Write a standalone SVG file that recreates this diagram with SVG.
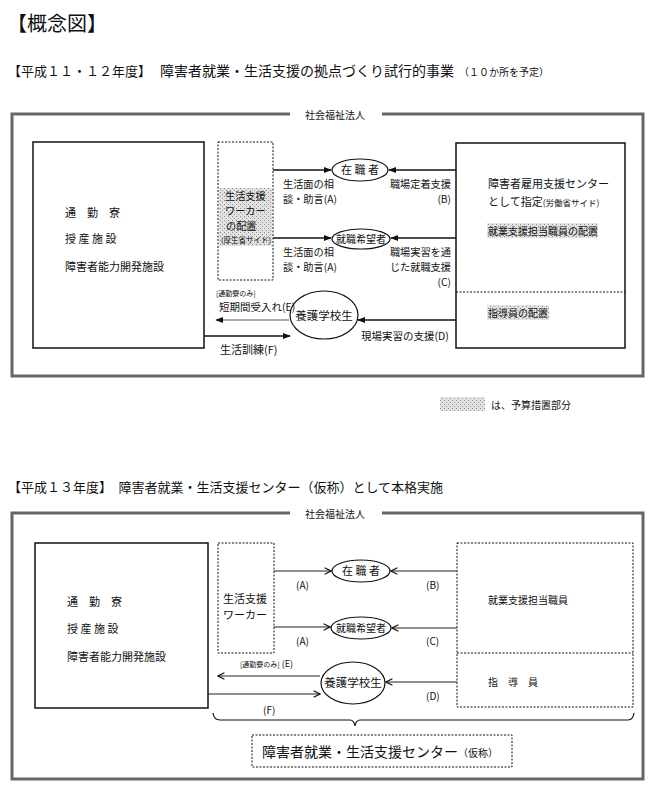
<svg xmlns="http://www.w3.org/2000/svg" width="659" height="796" viewBox="0 0 659 796">
<style>
text{font-family:"Noto Sans CJK JP","Noto Sans CJK SC",sans-serif;fill:#111}
.t{font-size:11px}
.l{font-size:10.2px}
.s{font-size:7px}
.m{font-size:10px}
.outer{fill:none;stroke:#666;stroke-width:3}
.box{fill:#fff;stroke:#111;stroke-width:1.5}
.dbox{fill:none;stroke:#111;stroke-width:1;stroke-dasharray:2 1.5}
.ell{fill:#fff;stroke:#111;stroke-width:1.2}
.a1{stroke:#111;stroke-width:1.6;fill:none;marker-end:url(#ah)}
.a1l{stroke:#555;stroke-width:1.2;fill:none;marker-end:url(#ah)}
.a2{stroke:#222;stroke-width:1.1;fill:none;marker-end:url(#ao)}
.ln{stroke:#111;stroke-width:1.2;fill:none}
.shade{fill:url(#dots)}
</style>
<defs>
<marker id="ah" viewBox="0 0 10 10" refX="9" refY="5" markerWidth="8" markerHeight="8" markerUnits="userSpaceOnUse" orient="auto">
<path d="M0,1 L10,5 L0,9 z" fill="#111"/>
</marker>
<marker id="ao" viewBox="0 0 10 10" refX="9" refY="5" markerWidth="8" markerHeight="8" markerUnits="userSpaceOnUse" orient="auto">
<path d="M1,1 L9,5 L1,9" fill="none" stroke="#111" stroke-width="1.4"/>
</marker>
<pattern id="dots" width="4" height="4" patternUnits="userSpaceOnUse">
<rect width="4" height="4" fill="#e2e2e2"/>
<rect width="1" height="1" fill="#8a8a8a"/>
<rect x="2" y="2" width="1" height="1" fill="#9a9a9a"/>
</pattern>
</defs>

<!-- titles -->
<text x="7" y="31" style="font-size:20px">【概念図】</text>
<text x="8" y="76" style="font-size:13px">【平成１１・１２年度】</text>
<text x="160" y="76" style="font-size:14px">障害者就業・生活支援の拠点づくり試行的事業</text>
<text x="459" y="76" class="m">（１０か所を予定）</text>

<!-- ===== Part 1 ===== -->
<g id="frame1">
<path class="outer" d="M290,114 H12 V376 H643 V114 H382"/>
<text x="305" y="119" class="m">社会福祉法人</text>
</g>

<g id="facilities1">
<rect class="box" x="33" y="142" width="171" height="206"/>
<text x="65" y="217" class="t" xml:space="preserve">通　勤　寮</text>
<text x="65" y="243" class="t">授 産 施 設</text>
<text x="65" y="271" class="t">障害者能力開発施設</text>
</g>

<g id="worker1">
<rect class="shade" x="219" y="188" width="53" height="58"/>
<rect class="dbox" x="218" y="142" width="55" height="138"/>
<text class="l"><tspan x="225" y="200">生活支援</tspan><tspan x="225" y="215">ワーカー</tspan><tspan x="226" y="230">の配置</tspan><tspan x="221" y="243" style="font-size:7.5px">(厚生省サイド)</tspan></text>
</g>

<g id="center1">
<rect class="box" x="456" y="143" width="169" height="205"/>
<line x1="456" y1="292" x2="625" y2="292" class="dbox"/>
<text class="t"><tspan x="488" y="188">障害者雇用支援センター</tspan><tspan x="488" y="206">として指定</tspan><tspan style="font-size:8.5px">(労働省サイド)</tspan></text>
<rect class="shade" x="487" y="223" width="111" height="15"/>
<text x="488" y="235" class="m">就業支援担当職員の配置</text>
<rect class="shade" x="487" y="305" width="62" height="15"/>
<text x="488" y="317" class="m">指導員の配置</text>
</g>

<g id="emp1">
<ellipse class="ell" cx="360" cy="170" rx="28" ry="11"/>
<text x="360" y="174" class="t" text-anchor="middle" xml:space="preserve">在 職 者</text>
</g>
<g id="seek1">
<ellipse class="ell" cx="361" cy="239" rx="29" ry="10"/>
<text x="361" y="243" class="m" text-anchor="middle">就職希望者</text>
</g>
<g id="student1">
<ellipse class="ell" cx="324" cy="315" rx="34" ry="24"/>
<text x="324" y="320" style="font-size:11.5px" text-anchor="middle">養護学校生</text>
</g>

<g id="connectors1">
<line class="a1" x1="273" y1="170" x2="331" y2="170"/>
<line class="a1" x1="456" y1="170" x2="389" y2="170"/>
<line class="a1" x1="273" y1="238" x2="331" y2="238"/>
<line class="a1" x1="456" y1="238" x2="391" y2="238"/>
<line class="a1l" x1="289" y1="320" x2="216" y2="320"/>
<line class="a1" x1="204" y1="336" x2="290" y2="336"/>
<line class="a1" x1="456" y1="320" x2="358" y2="320"/>
<text class="l"><tspan x="283" y="188">生活面の相</tspan><tspan x="283" y="203">談・助言(A)</tspan></text>
<text class="l" text-anchor="end"><tspan x="451" y="188">職場定着支援</tspan><tspan x="451" y="203">(B)</tspan></text>
<text class="l"><tspan x="283" y="256">生活面の相</tspan><tspan x="283" y="271">談・助言(A)</tspan></text>
<text class="l" text-anchor="end"><tspan x="451" y="256">職場実習を通</tspan><tspan x="451" y="271">じた就職支援</tspan><tspan x="451" y="286">(C)</tspan></text>
<text x="216" y="296" class="s">[通勤寮のみ]</text>
<text x="219" y="311" style="font-size:10.5px">短期間受入れ(E)</text>
<text x="220" y="354" class="t">生活訓練(F)</text>
<text x="361" y="340" style="font-size:10.5px">現場実習の支援(D)</text>
</g>

<g id="legend">
<rect class="shade" x="440" y="397" width="45" height="14"/>
<text x="491" y="409" class="m">は、予算措置部分</text>
</g>

<!-- ===== Part 2 ===== -->
<text x="8" y="492" style="font-size:13px">【平成１３年度】　障害者就業・生活支援センター（仮称）として本格実施</text>

<g id="frame2">
<path class="outer" d="M290,513 H12 V779 H643 V513 H382"/>
<text x="305" y="518" class="m">社会福祉法人</text>
</g>

<g id="facilities2">
<rect class="box" x="35" y="543" width="173" height="165"/>
<text x="67" y="606" class="t" xml:space="preserve">通　勤　寮</text>
<text x="67" y="633" class="t">授 産 施 設</text>
<text x="67" y="661" class="t">障害者能力開発施設</text>
</g>

<g id="worker2">
<rect class="dbox" x="218" y="543" width="56" height="110"/>
<text class="t"><tspan x="223" y="603">生活支援</tspan><tspan x="223" y="619">ワーカー</tspan></text>
</g>

<g id="center2">
<rect class="dbox" x="457" y="543" width="176" height="164"/>
<line x1="457" y1="653" x2="633" y2="653" class="dbox"/>
<text x="488" y="604" class="m">就業支援担当職員</text>
<text x="488" y="686" class="m" xml:space="preserve">指　導　員</text>
</g>

<g id="emp2">
<ellipse class="ell" cx="361" cy="571" rx="29" ry="11"/>
<text x="361" y="575" class="t" text-anchor="middle" xml:space="preserve">在 職 者</text>
</g>
<g id="seek2">
<ellipse class="ell" cx="361" cy="628" rx="30" ry="11"/>
<text x="361" y="632" class="m" text-anchor="middle">就職希望者</text>
</g>
<g id="student2">
<ellipse class="ell" cx="353" cy="683" rx="32" ry="21"/>
<text x="353" y="687" style="font-size:11.5px" text-anchor="middle">養護学校生</text>
</g>

<g id="connectors2">
<line class="a2" x1="274" y1="571" x2="331" y2="571"/>
<line class="a2" x1="457" y1="571" x2="391" y2="571"/>
<line class="a2" x1="274" y1="627" x2="330" y2="627"/>
<line class="a2" x1="457" y1="628" x2="392" y2="628"/>
<line class="a2" x1="320" y1="676" x2="218" y2="676"/>
<line class="a2" x1="208" y1="694" x2="320" y2="694"/>
<line class="a2" x1="457" y1="682" x2="386" y2="682"/>
<text x="296" y="589" class="m">(A)</text>
<text x="296" y="645" class="m">(A)</text>
<text x="426" y="589" class="m">(B)</text>
<text x="426" y="645" class="m">(C)</text>
<text x="426" y="700" class="m">(D)</text>
<text x="240" y="667"><tspan class="s">[通勤寮のみ]</tspan><tspan style="font-size:9px" dx="2">(E)</tspan></text>
<text x="263" y="714" class="m">(F)</text>
</g>

<g id="brace">
<path class="ln" d="M213,713 Q214,720 220,720 H350 Q354,720 355,726 Q356,720 360,720 H628 Q633,720 634,713"/>
</g>

<g id="centerLabel">
<rect class="dbox" x="252" y="735" width="260" height="32"/>
<text x="262" y="757" style="font-size:14px">障害者就業・生活支援センター<tspan class="m">（仮称）</tspan></text>
</g>
</svg>
